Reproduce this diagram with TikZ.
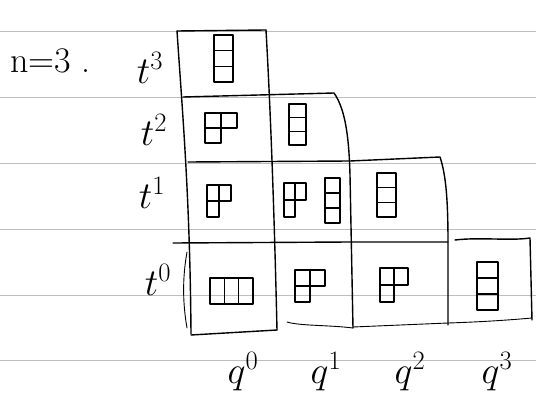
\RequirePackage{fix-cm}
\documentclass[tikz,border=0pt]{standalone}
\usetikzlibrary{calc}
\definecolor{rule}{HTML}{BEBEBE}
\tikzset{
  ruled/.style={rule, line width=0.9pt},
  frame/.style={black, line width=1.4pt, line cap=round, line join=round},
  thin frame/.style={black, line width=0.9pt, line cap=round},
  tab/.style={black, line width=1.1pt, line join=round},
  lab/.style={inner sep=0pt, font=\fontsize{38}{38}\selectfont},
  nlab/.style={inner sep=0pt, font=\fontsize{36}{36}\selectfont},
}
% column of three cells: x, y (top-left), width, total height
\newcommand{\ydcolthree}[4]{%
  \draw[tab] (#1,#2) rectangle ({#1+#3},{#2+#4});
  \draw[tab] (#1,{#2+#4/3}) -- ({#1+#3},{#2+#4/3});
  \draw[tab] (#1,{#2+2*#4/3}) -- ({#1+#3},{#2+2*#4/3});}
% row of three cells: x, y, total width, height
\newcommand{\ydrowthree}[4]{%
  \draw[tab] (#1,#2) rectangle ({#1+#3},{#2+#4});
  \draw[tab] ({#1+#3/3},#2) -- ({#1+#3/3},{#2+#4});
  \draw[tab] ({#1+2*#3/3},#2) -- ({#1+2*#3/3},{#2+#4});}
% shape (2,1): x, y, cell width, cell height
\newcommand{\ydhook}[4]{%
  \draw[tab] (#1,#2) rectangle ({#1+2*#3},{#2+#4});
  \draw[tab] (#1,{#2+#4}) rectangle ({#1+#3},{#2+2*#4});
  \draw[tab] ({#1+#3},#2) -- ({#1+#3},{#2+#4});}
\begin{document}
\begin{tikzpicture}[x=1pt,y=-1pt]
\useasboundingbox (0,0) rectangle (536,404);
\fill[white] (0,0) rectangle (536,404);
% ruled paper
\foreach \yy in {31,97,163,229,295,360}
  \draw[ruled] (0,\yy) -- (536,\yy);
% outer frame and cell borders
\draw[frame] (177,31) .. controls (183,120) and (190,200) .. (191,334);
\draw[frame] (177,31) -- (266,30);
\draw[frame] (266,30) .. controls (270,100) and (274,200) .. (277,330);
\draw[frame] (183,97) -- (334,93) .. controls (346,110) and (349,140) .. (350,175) -- (353,328);
\draw[frame] (188,162) -- (350,161) -- (440,157) .. controls (446,175) and (448,200) .. (448,243) -- (448,325);
\draw[frame] (173,243) -- (350,242) -- (448,242);
\draw[frame] (455,240) .. controls (480,237) and (510,241) .. (530,238) -- (532,320);
\draw[frame] (191,335) -- (277,330);
\draw[thin frame] (287,322) .. controls (300,326) and (330,325) .. (353,328);
\draw[thin frame] (353,327) -- (448,323) .. controls (480,322) and (510,320) .. (532,318);
\draw[thin frame] (187,252) .. controls (182,280) and (183,305) .. (187,328);
% tableaux
\ydcolthree{214}{35}{19}{47}
\ydhook{205}{113}{16}{15}
\ydcolthree{289}{104}{17}{41}
\ydhook{207}{185}{12}{16}
\ydhook{284}{183}{11}{17}
\ydcolthree{325}{178}{15}{45}
\ydcolthree{377}{173}{19}{44}
\ydrowthree{210}{278}{43}{26}
\ydhook{295}{270}{15}{16}
\ydhook{380}{268}{14}{17}
\ydcolthree{477}{262}{21}{48}
% labels
\node[nlab, anchor=base west] (n) at (10,73) {n=3\hspace{10pt}.};
\node[lab] (t3) at (150,68) {$t^3$};
\node[lab] (t2) at (154,130) {$t^2$};
\node[lab] (t1) at (152,193) {$t^1$};
\node[lab] (t0) at (158,280) {$t^0$};
\node[lab] (q0) at (243,372) {$q^0$};
\node[lab] (q1) at (326,372) {$q^1$};
\node[lab] (q2) at (410,372) {$q^2$};
\node[lab] (q3) at (497,372) {$q^3$};
\end{tikzpicture}
\end{document}
